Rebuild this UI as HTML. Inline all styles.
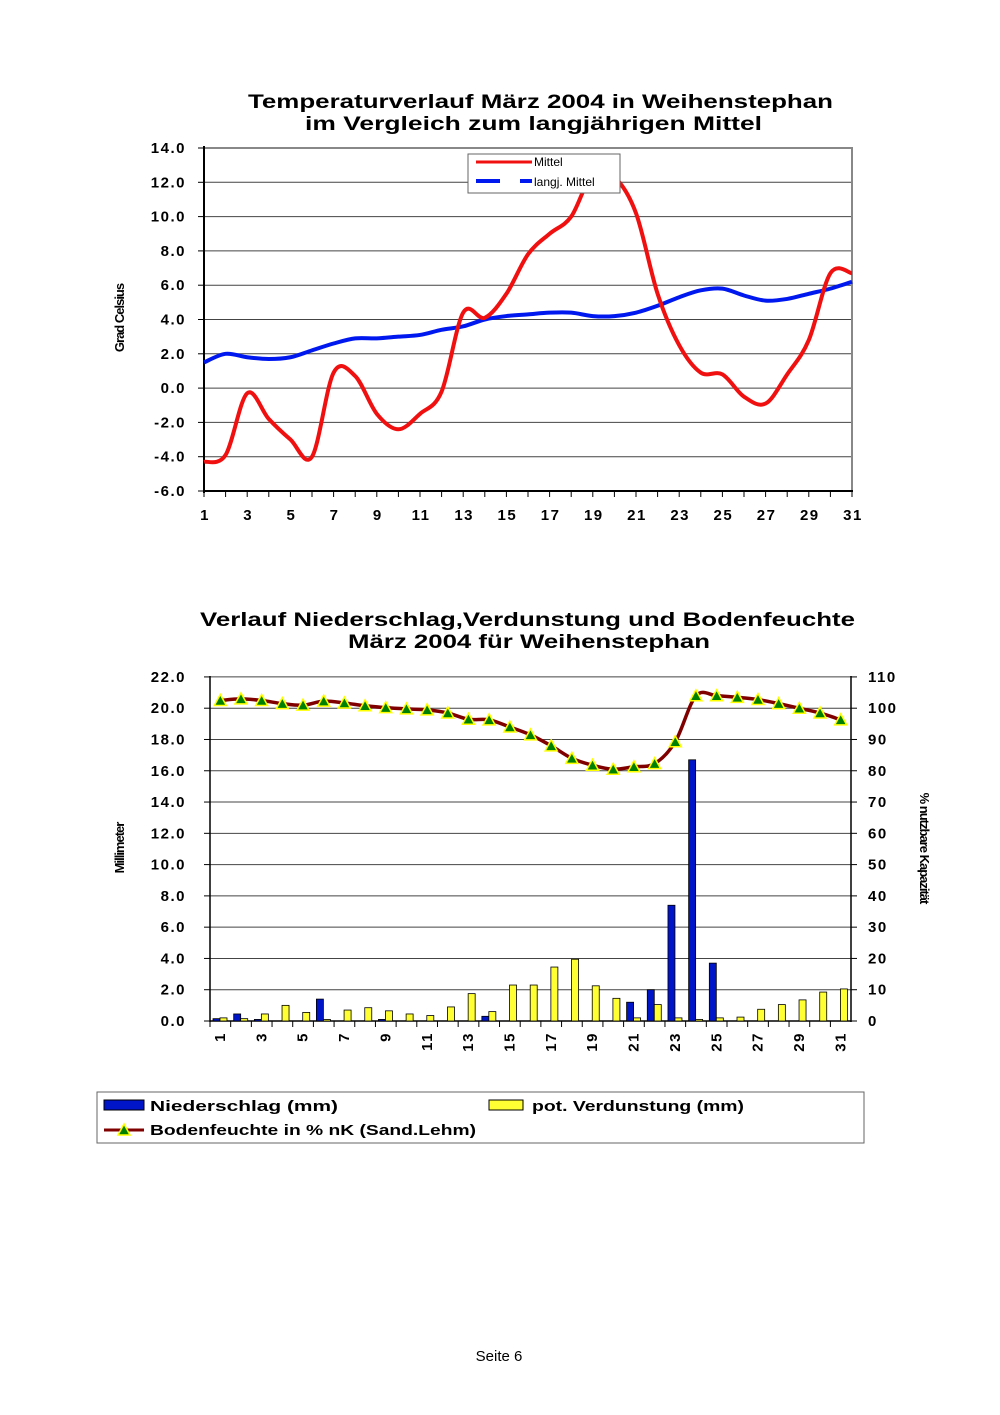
<!DOCTYPE html>
<html><head><meta charset="utf-8"><style>
body{margin:0;background:#fff;width:1000px;height:1415px;overflow:hidden}
svg{position:absolute;left:0;top:0}
text{font-family:"Liberation Sans",Arial,sans-serif}
</style></head><body>
<svg id="s" width="1000" height="1415" xmlns="http://www.w3.org/2000/svg"></svg>
<script>
const s=document.getElementById('s');let h='';
function cr(pts){let d='M'+pts[0][0]+','+pts[0][1];for(let i=0;i<pts.length-1;i++){const p0=pts[i-1]||pts[i],p1=pts[i],p2=pts[i+1],p3=pts[i+2]||p2;d+=' C'+(p1[0]+(p2[0]-p0[0])/6)+','+(p1[1]+(p2[1]-p0[1])/6)+' '+(p2[0]-(p3[0]-p1[0])/6)+','+(p2[1]-(p3[1]-p1[1])/6)+' '+p2[0]+','+p2[1];}return d;}
const T=(x,y,len,sz,t,extra='')=>`<text x="${x}" y="${y}" font-size="${sz}" font-weight="bold" textLength="${len}" lengthAdjust="spacingAndGlyphs" ${extra}>${t}</text>`;
// Top chart
h+=T(248,108,585,19,'Temperaturverlauf März 2004 in Weihenstephan');
h+=T(305,130,457,19,'im Vergleich zum langjährigen Mittel');
const ty=v=>148+(14-v)*17.15, tx=d=>204+(d-1)*21.6;
for(let v=-6;v<=14;v+=2){h+=`<line x1="204" x2="852" y1="${ty(v)}" y2="${ty(v)}" stroke="#444" stroke-width="1"/>`;h+=`<line x1="198" x2="204" y1="${ty(v)}" y2="${ty(v)}" stroke="#000"/>`;h+=`<text x="186" y="${ty(v)+5}" font-size="15" font-weight="bold" text-anchor="end" letter-spacing="1.5">${v.toFixed(1)}</text>`;}
h+='<rect x="204" y="148" width="648" height="343" fill="none" stroke="#888" stroke-width="2"/>';
h+='<line x1="204" y1="146" x2="204" y2="493" stroke="#000" stroke-width="2"/><line x1="204" y1="491" x2="853" y2="491" stroke="#000" stroke-width="2"/>';
for(let d=1;d<=31;d++){h+=`<line x1="${tx(d)}" x2="${tx(d)}" y1="491" y2="497" stroke="#000"/>`;if(d%2)h+=`<text x="${tx(d)+1}" y="520" font-size="15" font-weight="bold" text-anchor="middle" letter-spacing="1.5">${d}</text>`;}
h+='<text transform="translate(124,318) rotate(-90)" font-size="13" font-weight="bold" text-anchor="middle" letter-spacing="-1">Grad Celsius</text>';
const red=[-4.3,-3.9,-0.3,-1.8,-3.0,-4.0,0.9,0.7,-1.5,-2.4,-1.5,-0.2,4.4,4.1,5.5,7.8,9.0,10.0,12.5,12.3,10.2,5.5,2.5,0.9,0.8,-0.5,-0.9,0.8,2.8,6.7,6.7];
const blue=[1.5,2.0,1.8,1.7,1.8,2.2,2.6,2.9,2.9,3.0,3.1,3.4,3.6,4.0,4.2,4.3,4.4,4.4,4.2,4.2,4.4,4.8,5.3,5.7,5.8,5.4,5.1,5.2,5.5,5.8,6.2];
h+=`<path d="${cr(blue.map((v,i)=>[tx(i+1),ty(v)]))}" fill="none" stroke="#0018f0" stroke-width="4"/>`;
h+=`<path d="${cr(red.map((v,i)=>[tx(i+1),ty(v)]))}" fill="none" stroke="#f01010" stroke-width="4"/>`;
h+='<rect x="468" y="154" width="152" height="39" fill="#fff" stroke="#666"/>';
h+='<line x1="476" x2="532" y1="162" y2="162" stroke="#f01010" stroke-width="3"/><text x="534" y="166" font-size="12">Mittel</text>';
h+='<line x1="476" x2="500" y1="181" y2="181" stroke="#0018f0" stroke-width="4"/><line x1="520" x2="532" y1="181" y2="181" stroke="#0018f0" stroke-width="4"/><text x="534" y="186" font-size="12">langj. Mittel</text>';
// Bottom chart
h+=T(200,626,655,19,'Verlauf Niederschlag,Verdunstung und Bodenfeuchte');
h+=T(348,648,362,19,'März 2004 für Weihenstephan');
const by=v=>1021-v*15.64, bx=d=>210+(d-1)*20.68, py=p=>1021-p*3.127;
for(let v=0;v<=22;v+=2){h+=`<line x1="210" x2="851" y1="${by(v)}" y2="${by(v)}" stroke="#444"/>`;h+=`<line x1="204" x2="210" y1="${by(v)}" y2="${by(v)}" stroke="#000"/><line x1="851" x2="857" y1="${by(v)}" y2="${by(v)}" stroke="#000"/>`;h+=`<text x="186" y="${by(v)+5}" font-size="15" font-weight="bold" text-anchor="end" letter-spacing="1.5">${v.toFixed(1)}</text>`;h+=`<text x="868" y="${by(v)+5}" font-size="15" font-weight="bold" letter-spacing="1.5">${v*5}</text>`;}
h+='<line x1="210" y1="676" x2="210" y2="1022" stroke="#000" stroke-width="1.5"/><line x1="851" y1="676" x2="851" y2="1022" stroke="#000" stroke-width="1.5"/><line x1="210" y1="1021" x2="851" y2="1021" stroke="#000" stroke-width="1.5"/>';
h+='<text transform="translate(124,848) rotate(-90)" font-size="13" font-weight="bold" text-anchor="middle" letter-spacing="-1">Millimeter</text>';
h+='<text transform="translate(920,848) rotate(90)" font-size="13" font-weight="bold" text-anchor="middle" letter-spacing="-1">% nutzbare Kapazität</text>';
const nb={1:0.15,2:0.45,3:0.1,6:1.4,9:0.1,14:0.3,21:1.2,22:2.0,23:7.4,24:16.7,25:3.7};
const ye=[0.2,0.15,0.45,1.0,0.55,0.1,0.7,0.85,0.65,0.45,0.35,0.9,1.75,0.6,2.3,2.3,3.45,3.95,2.25,1.45,0.2,1.05,0.2,0.1,0.2,0.25,0.75,1.05,1.35,1.85,2.05];
for(let d=1;d<=31;d++){const x0=bx(d);h+=`<line x1="${x0}" x2="${x0}" y1="1021" y2="1027" stroke="#000"/>`;
if(nb[d])h+=`<rect x="${x0+3}" y="${by(nb[d])}" width="7" height="${nb[d]*15.64}" fill="#0014c8" stroke="#000" stroke-width="0.8"/>`;
h+=`<rect x="${x0+10}" y="${by(ye[d-1])}" width="7" height="${ye[d-1]*15.64}" fill="#ffff33" stroke="#000" stroke-width="0.8"/>`;
if(d%2)h+=`<text transform="translate(${x0+15},1032) rotate(-90)" font-size="15" font-weight="bold" text-anchor="end" letter-spacing="1.5">${d}</text>`;}
const bf=[102.5,103,102.5,101.5,101,102.3,101.7,100.8,100.2,99.8,99.5,98.5,96.5,96.3,94,91.5,88,84,81.8,80.5,81.3,82.3,89.3,104,104,103.5,102.8,101.5,100,98.5,96.3];
const bp=bf.map((p,i)=>[bx(i+1)+10.3,py(p)]);
h+=`<path d="${cr(bp)}" fill="none" stroke="#800000" stroke-width="3.5"/>`;
bp.forEach(([x,y])=>{h+=`<polygon points="${x},${y-6} ${x-6},${y+5} ${x+6},${y+5}" fill="#008000" stroke="#ffff00" stroke-width="1.5"/>`;});
// legend
h+='<rect x="97" y="1092" width="767" height="51" fill="#fff" stroke="#666"/>';
h+='<rect x="104" y="1100" width="40" height="10" fill="#0014c8" stroke="#000"/>'+T(150,1111,188,15,'Niederschlag (mm)');
h+='<rect x="489" y="1100" width="34" height="10" fill="#ffff33" stroke="#000"/>'+T(532,1111,212,15,'pot. Verdunstung (mm)');
h+='<line x1="104" x2="144" y1="1130" y2="1130" stroke="#800000" stroke-width="3"/><polygon points="124,1124 118,1135 130,1135" fill="#008000" stroke="#ffff00" stroke-width="1.5"/>'+T(150,1135,326,15,'Bodenfeuchte in % nK (Sand.Lehm)');
h+='<text x="499" y="1361" font-size="15" text-anchor="middle">Seite 6</text>';
s.innerHTML=h;
</script>
</body></html>
